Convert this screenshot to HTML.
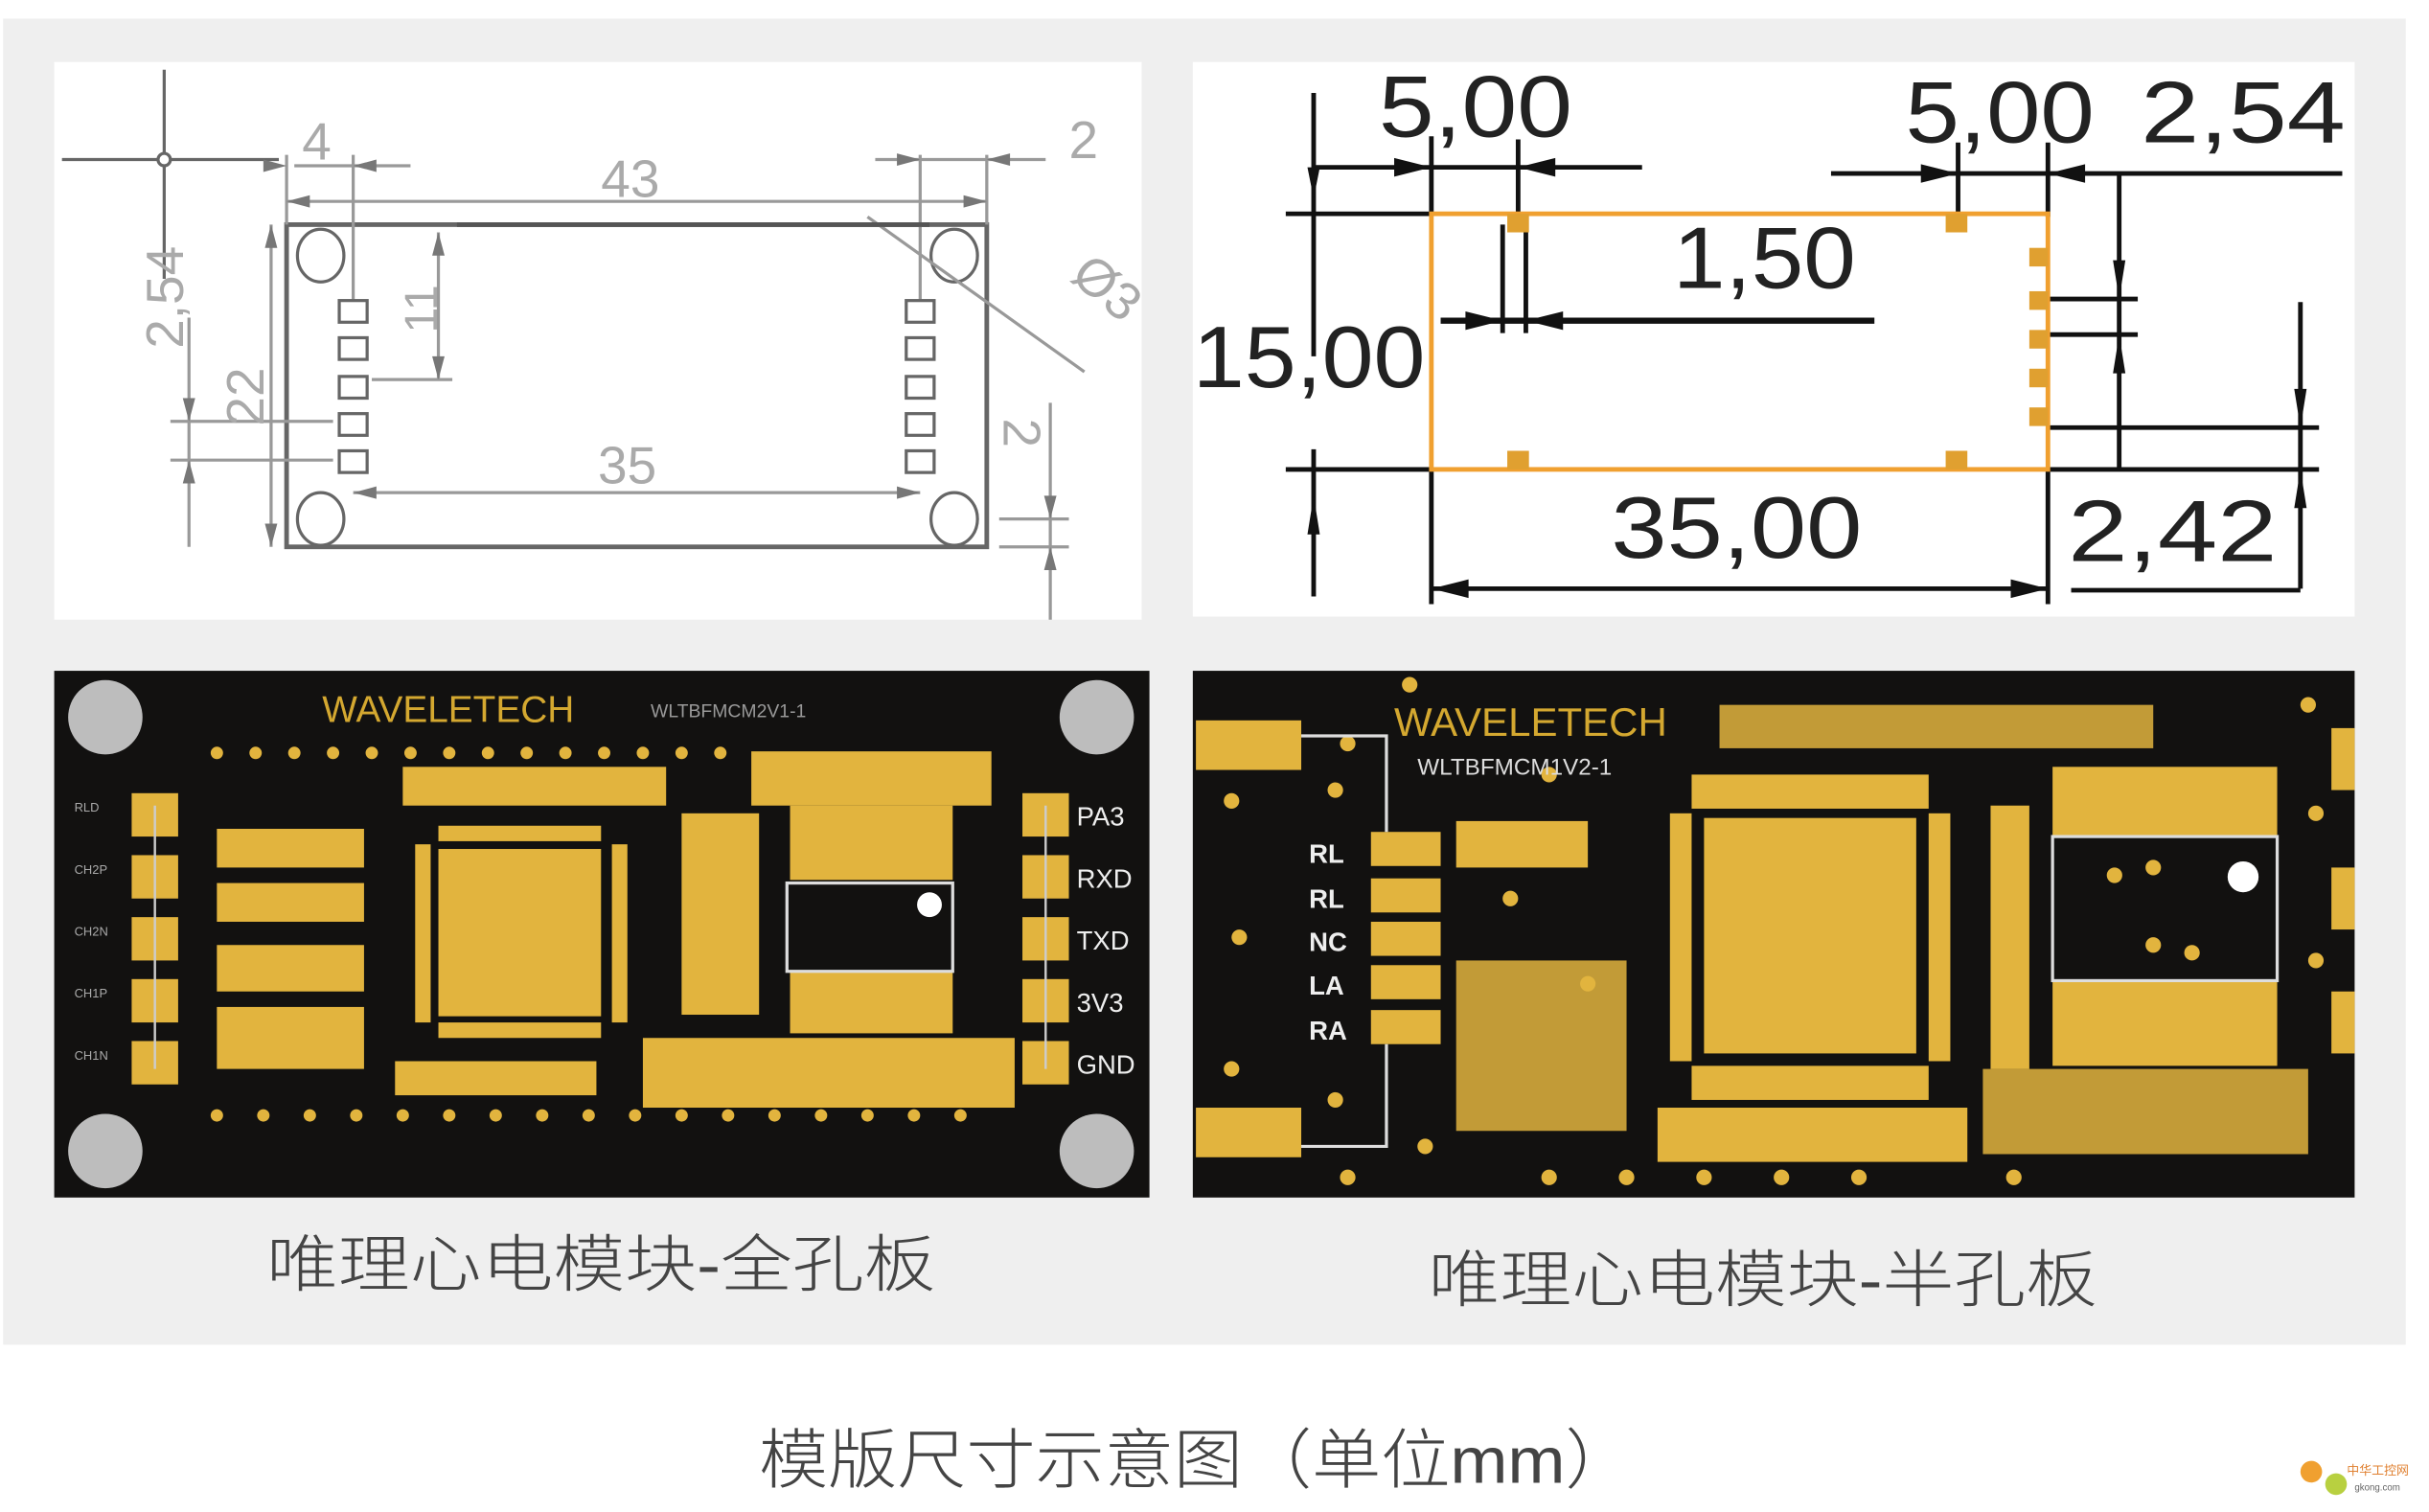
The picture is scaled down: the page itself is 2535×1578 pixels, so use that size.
<!DOCTYPE html>
<html><head><meta charset="utf-8"><style>
html,body{margin:0;padding:0;background:#fff;}
svg{display:block;}
text{font-family:"Liberation Sans","Noto Sans CJK SC",sans-serif;}
</style></head><body>
<svg width="2535" height="1578" viewBox="0 0 1568 976" preserveAspectRatio="none" xmlns="http://www.w3.org/2000/svg">
<rect x="0" y="0" width="1568" height="976" fill="#fff"/>
<rect x="2" y="12" width="1551" height="856" fill="#efefef"/>
<!-- top-left drawing -->
<rect x="35" y="40" width="702" height="360" fill="#fff"/>
<g stroke="#999" stroke-width="2" fill="none">
<line x1="106" y1="45" x2="106" y2="180" stroke="#666"/>
<line x1="40" y1="103" x2="180" y2="103" stroke="#666"/>
<circle cx="106" cy="103" r="4" fill="#fff" stroke="#666"/>
<rect x="185" y="145" width="452" height="208" stroke="#666" stroke-width="3"/>
<ellipse cx="207" cy="165" rx="15" ry="17" stroke="#666"/>
<ellipse cx="616" cy="165" rx="15" ry="17" stroke="#666"/>
<ellipse cx="207" cy="335" rx="15" ry="17" stroke="#666"/>
<ellipse cx="616" cy="335" rx="15" ry="17" stroke="#666"/>
<line x1="185" y1="100" x2="185" y2="145"/><line x1="228" y1="100" x2="228" y2="200"/>
<line x1="190" y1="107" x2="265" y2="107"/>
<line x1="185" y1="130" x2="637" y2="130"/>
<line x1="594" y1="100" x2="594" y2="195"/><line x1="637" y1="100" x2="637" y2="145"/>
<line x1="565" y1="103" x2="675" y2="103"/>
<line x1="228" y1="318" x2="594" y2="318"/>
<line x1="283" y1="150" x2="283" y2="245"/><line x1="240" y1="245" x2="292" y2="245"/>
<line x1="175" y1="145" x2="175" y2="353"/>
<line x1="122" y1="205" x2="122" y2="353"/>
<line x1="110" y1="272" x2="215" y2="272"/><line x1="110" y1="297" x2="215" y2="297"/>
<line x1="678" y1="260" x2="678" y2="400"/>
<line x1="645" y1="335" x2="690" y2="335"/><line x1="645" y1="353" x2="690" y2="353"/>
<line x1="560" y1="140" x2="700" y2="240"/>
<line x1="295" y1="145" x2="600" y2="145" stroke="#555" stroke-width="3"/>
</g>
<g fill="#777">
<polygon points="185,130 200,126 200,134"/><polygon points="637,130 622,126 622,134"/>
<polygon points="228,318 243,314 243,322"/><polygon points="594,318 579,314 579,322"/>
<polygon points="175,145 171,160 179,160"/><polygon points="175,353 171,338 179,338"/>
<polygon points="283,150 279,165 287,165"/><polygon points="283,245 279,230 287,230"/>
<polygon points="185,107 170,103 170,111"/><polygon points="228,107 243,103 243,111"/>
<polygon points="594,103 579,99 579,107"/><polygon points="637,103 652,99 652,107"/>
<polygon points="122,272 118,257 126,257"/><polygon points="122,297 118,312 126,312"/>
<polygon points="678,335 674,320 682,320"/><polygon points="678,353 674,368 682,368"/>
</g>
<g fill="#fff" stroke="#666" stroke-width="2">
<rect x="219" y="194" width="18" height="14"/><rect x="219" y="218" width="18" height="14"/><rect x="219" y="243" width="18" height="14"/><rect x="219" y="267" width="18" height="14"/><rect x="219" y="291" width="18" height="14"/>
<rect x="585" y="194" width="18" height="14"/><rect x="585" y="218" width="18" height="14"/><rect x="585" y="243" width="18" height="14"/><rect x="585" y="267" width="18" height="14"/><rect x="585" y="291" width="18" height="14"/>
</g>
<g fill="#aaa" font-size="34">
<text x="195" y="103">4</text><text x="388" y="127">43</text><text x="690" y="102">2</text>
<text x="386" y="312">35</text>
<text transform="translate(118,225) rotate(-90)">2,54</text>
<text transform="translate(170,275) rotate(-90)">22</text>
<text transform="translate(282,215) rotate(-90)" font-size="30">11</text>
<text transform="translate(648,270) rotate(90)">2</text>
<text transform="translate(690,180) rotate(40)">Ø3</text>
</g>
<!-- top-right drawing -->
<rect x="770" y="40" width="750" height="358" fill="#fff"/>
<g stroke="#111" stroke-width="3" fill="none">
<line x1="848" y1="60" x2="848" y2="230"/><line x1="848" y1="290" x2="848" y2="385"/>
<line x1="848" y1="108" x2="1060" y2="108"/>
<line x1="924" y1="88" x2="924" y2="138"/><line x1="980" y1="90" x2="980" y2="140"/>
<line x1="830" y1="138" x2="924" y2="138"/><line x1="830" y1="303" x2="924" y2="303"/>
<line x1="1182" y1="112" x2="1512" y2="112"/>
<line x1="1264" y1="92" x2="1264" y2="140"/><line x1="1322" y1="92" x2="1322" y2="140"/>
<line x1="1368" y1="112" x2="1368" y2="303"/>
<line x1="1322" y1="193" x2="1380" y2="193"/><line x1="1322" y1="216" x2="1380" y2="216"/>
<line x1="1322" y1="276" x2="1497" y2="276"/><line x1="1322" y1="303" x2="1497" y2="303"/>
<line x1="1485" y1="195" x2="1485" y2="380"/><line x1="1337" y1="381" x2="1485" y2="381"/>
<line x1="924" y1="303" x2="924" y2="390"/><line x1="1322" y1="303" x2="1322" y2="390"/>
<line x1="924" y1="380" x2="1322" y2="380"/>
<line x1="970" y1="145" x2="970" y2="215"/><line x1="985" y1="145" x2="985" y2="215"/>
<line x1="930" y1="207" x2="1210" y2="207" stroke-width="4"/>
</g>
<g fill="#111">
<polygon points="924,108 900,102 900,114"/><polygon points="980,108 1004,102 1004,114"/>
<polygon points="1264,112 1240,106 1240,118"/><polygon points="1322,112 1346,106 1346,118"/>
<polygon points="970,207 946,201 946,213"/><polygon points="985,207 1009,201 1009,213"/>
<polygon points="924,380 948,374 948,386"/><polygon points="1322,380 1298,374 1298,386"/>
<polygon points="848,108 844,128 852,128" transform="rotate(180 848 118)"/>
<polygon points="848,320 844,345 852,345"/>
<polygon points="1368,193 1364,168 1372,168"/><polygon points="1368,216 1364,241 1372,241"/>
<polygon points="1485,276 1481,251 1489,251"/><polygon points="1485,303 1481,328 1489,328"/>
</g>
<rect x="924" y="138" width="398" height="165" fill="none" stroke="#f0a030" stroke-width="3"/>
<g fill="#e0a030">
<rect x="973" y="138" width="14" height="12"/><rect x="1256" y="138" width="14" height="12"/>
<rect x="973" y="291" width="14" height="12"/><rect x="1256" y="291" width="14" height="12"/>
<rect x="1310" y="160" width="12" height="12"/><rect x="1310" y="188" width="12" height="12"/><rect x="1310" y="213" width="12" height="12"/><rect x="1310" y="238" width="12" height="12"/><rect x="1310" y="263" width="12" height="12"/>
</g>
<g fill="#222" font-size="56" font-weight="300">
<text x="890" y="88" textLength="125" lengthAdjust="spacingAndGlyphs">5,00</text><text x="1230" y="92" textLength="122" lengthAdjust="spacingAndGlyphs">5,00</text><text x="1382" y="92" textLength="132" lengthAdjust="spacingAndGlyphs">2,54</text>
<text x="1080" y="186" textLength="118" lengthAdjust="spacingAndGlyphs">1,50</text><text x="770" y="250" textLength="150" lengthAdjust="spacingAndGlyphs">15,00</text>
<text x="1040" y="360" textLength="162" lengthAdjust="spacingAndGlyphs">35,00</text><text x="1335" y="362" textLength="135" lengthAdjust="spacingAndGlyphs">2,42</text>
</g>
<!-- left PCB -->
<rect x="35" y="433" width="707" height="340" fill="#121110"/>
<g fill="#bdbdbd"><circle cx="68" cy="463" r="24"/><circle cx="708" cy="463" r="24"/><circle cx="68" cy="743" r="24"/><circle cx="708" cy="743" r="24"/></g>
<text x="208" y="466" fill="#d4a830" font-size="24">WAVELETECH</text>
<text x="420" y="463" fill="#999" font-size="12">WLTBFMCM2V1-1</text>
<g fill="#e2b43e">
<rect x="85" y="512" width="30" height="28"/><rect x="85" y="552" width="30" height="28"/><rect x="85" y="592" width="30" height="28"/><rect x="85" y="632" width="30" height="28"/><rect x="85" y="672" width="30" height="28"/>
<rect x="660" y="512" width="30" height="28"/><rect x="660" y="552" width="30" height="28"/><rect x="660" y="592" width="30" height="28"/><rect x="660" y="632" width="30" height="28"/><rect x="660" y="672" width="30" height="28"/>
<rect x="283" y="548" width="105" height="108"/>
<rect x="268" y="545" width="10" height="115"/><rect x="395" y="545" width="10" height="115"/>
<rect x="283" y="533" width="105" height="10"/><rect x="283" y="660" width="105" height="10"/>
<rect x="510" y="520" width="105" height="48"/><rect x="510" y="627" width="105" height="40"/>
<rect x="140" y="535" width="95" height="25"/><rect x="140" y="570" width="95" height="25"/><rect x="140" y="610" width="95" height="30"/><rect x="140" y="650" width="95" height="40"/>
<rect x="260" y="495" width="170" height="25"/><rect x="485" y="485" width="155" height="35"/>
<rect x="255" y="685" width="130" height="22"/><rect x="415" y="670" width="240" height="45"/>
<rect x="440" y="525" width="50" height="130"/>
</g>
<g fill="#e2b43e">
<circle cx="140" cy="486" r="4"/><circle cx="165" cy="486" r="4"/><circle cx="190" cy="486" r="4"/><circle cx="215" cy="486" r="4"/><circle cx="240" cy="486" r="4"/><circle cx="265" cy="486" r="4"/><circle cx="290" cy="486" r="4"/><circle cx="315" cy="486" r="4"/><circle cx="340" cy="486" r="4"/><circle cx="365" cy="486" r="4"/><circle cx="390" cy="486" r="4"/><circle cx="415" cy="486" r="4"/><circle cx="440" cy="486" r="4"/><circle cx="465" cy="486" r="4"/>
<circle cx="140" cy="720" r="4"/><circle cx="170" cy="720" r="4"/><circle cx="200" cy="720" r="4"/><circle cx="230" cy="720" r="4"/><circle cx="260" cy="720" r="4"/><circle cx="290" cy="720" r="4"/><circle cx="320" cy="720" r="4"/><circle cx="350" cy="720" r="4"/><circle cx="380" cy="720" r="4"/><circle cx="410" cy="720" r="4"/><circle cx="440" cy="720" r="4"/><circle cx="470" cy="720" r="4"/><circle cx="500" cy="720" r="4"/><circle cx="530" cy="720" r="4"/><circle cx="560" cy="720" r="4"/><circle cx="590" cy="720" r="4"/><circle cx="620" cy="720" r="4"/>
</g>
<rect x="508" y="570" width="107" height="57" fill="#121110" stroke="#ddd" stroke-width="2"/>
<circle cx="600" cy="584" r="8" fill="#fff"/>
<g stroke="#ccc" stroke-width="1.5"><line x1="100" y1="520" x2="100" y2="690"/><line x1="675" y1="520" x2="675" y2="690"/></g>
<g fill="#eee" font-size="17"><text x="695" y="533">PA3</text><text x="695" y="573">RXD</text><text x="695" y="613">TXD</text><text x="695" y="653">3V3</text><text x="695" y="693">GND</text></g>
<g fill="#aaa" font-size="8"><text x="48" y="524">RLD</text><text x="48" y="564">CH2P</text><text x="48" y="604">CH2N</text><text x="48" y="644">CH1P</text><text x="48" y="684">CH1N</text></g>
<!-- right PCB -->
<rect x="770" y="433" width="750" height="340" fill="#121110"/>
<g fill="#e2b43e">
<rect x="772" y="465" width="68" height="32"/><rect x="772" y="715" width="68" height="32"/>
<rect x="885" y="537" width="45" height="22"/><rect x="885" y="567" width="45" height="22"/><rect x="885" y="595" width="45" height="22"/><rect x="885" y="623" width="45" height="22"/><rect x="885" y="652" width="45" height="22"/>
<rect x="1100" y="528" width="137" height="152"/>
<rect x="1092" y="500" width="153" height="22"/><rect x="1092" y="688" width="153" height="22"/>
<rect x="1078" y="525" width="14" height="160"/><rect x="1245" y="525" width="14" height="160"/>
<rect x="1325" y="495" width="145" height="45"/><rect x="1325" y="633" width="145" height="55"/>
<rect x="1110" y="455" width="280" height="28" opacity="0.85"/>
<rect x="1285" y="520" width="25" height="170"/>
<rect x="940" y="530" width="85" height="30"/><rect x="940" y="620" width="110" height="110" opacity="0.85"/>
<rect x="1070" y="715" width="200" height="35"/><rect x="1280" y="690" width="210" height="55" opacity="0.85"/>
<rect x="1505" y="470" width="15" height="40"/><rect x="1505" y="560" width="15" height="40"/><rect x="1505" y="640" width="15" height="40"/>
</g>
<g fill="#e2b43e">
<circle cx="795" cy="517" r="5"/><circle cx="800" cy="605" r="5"/><circle cx="795" cy="690" r="5"/><circle cx="870" cy="480" r="5"/><circle cx="862" cy="510" r="5"/><circle cx="862" cy="710" r="5"/><circle cx="910" cy="442" r="5"/><circle cx="1000" cy="500" r="5"/><circle cx="975" cy="580" r="5"/><circle cx="1025" cy="635" r="5"/><circle cx="1000" cy="760" r="5"/><circle cx="1050" cy="760" r="5"/><circle cx="1100" cy="760" r="5"/><circle cx="1150" cy="760" r="5"/><circle cx="1200" cy="760" r="5"/><circle cx="1300" cy="760" r="5"/><circle cx="1490" cy="455" r="5"/><circle cx="1495" cy="525" r="5"/><circle cx="1495" cy="620" r="5"/><circle cx="870" cy="760" r="5"/><circle cx="920" cy="740" r="5"/>
</g>
<rect x="1325" y="540" width="145" height="93" fill="#121110" stroke="#ddd" stroke-width="2"/>
<circle cx="1448" cy="566" r="10" fill="#fff"/>
<g fill="#e2b43e"><circle cx="1390" cy="560" r="5"/><circle cx="1365" cy="565" r="5"/><circle cx="1390" cy="610" r="5"/><circle cx="1415" cy="615" r="5"/></g>
<polyline points="840,475 895,475 895,537" fill="none" stroke="#ddd" stroke-width="2"/>
<polyline points="840,740 895,740 895,674" fill="none" stroke="#ddd" stroke-width="2"/>
<text x="900" y="475" fill="#d4a830" font-size="26">WAVELETECH</text>
<text x="915" y="500" fill="#ddd" font-size="15">WLTBFMCM1V2-1</text>
<g fill="#eee" font-size="17" font-weight="bold"><text x="845" y="557">RL</text><text x="845" y="586">RL</text><text x="845" y="614">NC</text><text x="845" y="642">LA</text><text x="845" y="671">RA</text></g>
<!-- captions -->
<g fill="#444" font-size="40" font-family="'Noto Sans CJK SC',sans-serif" font-weight="300">
<text x="172" y="830" textLength="432" lengthAdjust="spacingAndGlyphs">唯理心电模块-全孔板</text>
<text x="922" y="840" textLength="432" lengthAdjust="spacingAndGlyphs">唯理心电模块-半孔板</text>
<text x="490" y="957" font-size="42" textLength="565" lengthAdjust="spacingAndGlyphs">模版尺寸示意图（单位mm）</text>
</g>
<g><circle cx="1492" cy="950" r="7" fill="#f0a030"/><circle cx="1508" cy="958" r="7" fill="#b8d040"/><text x="1515" y="952" font-size="8" fill="#e08030">中华工控网</text><text x="1520" y="962" font-size="6" fill="#666">gkong.com</text></g>
</svg>
</body></html>
